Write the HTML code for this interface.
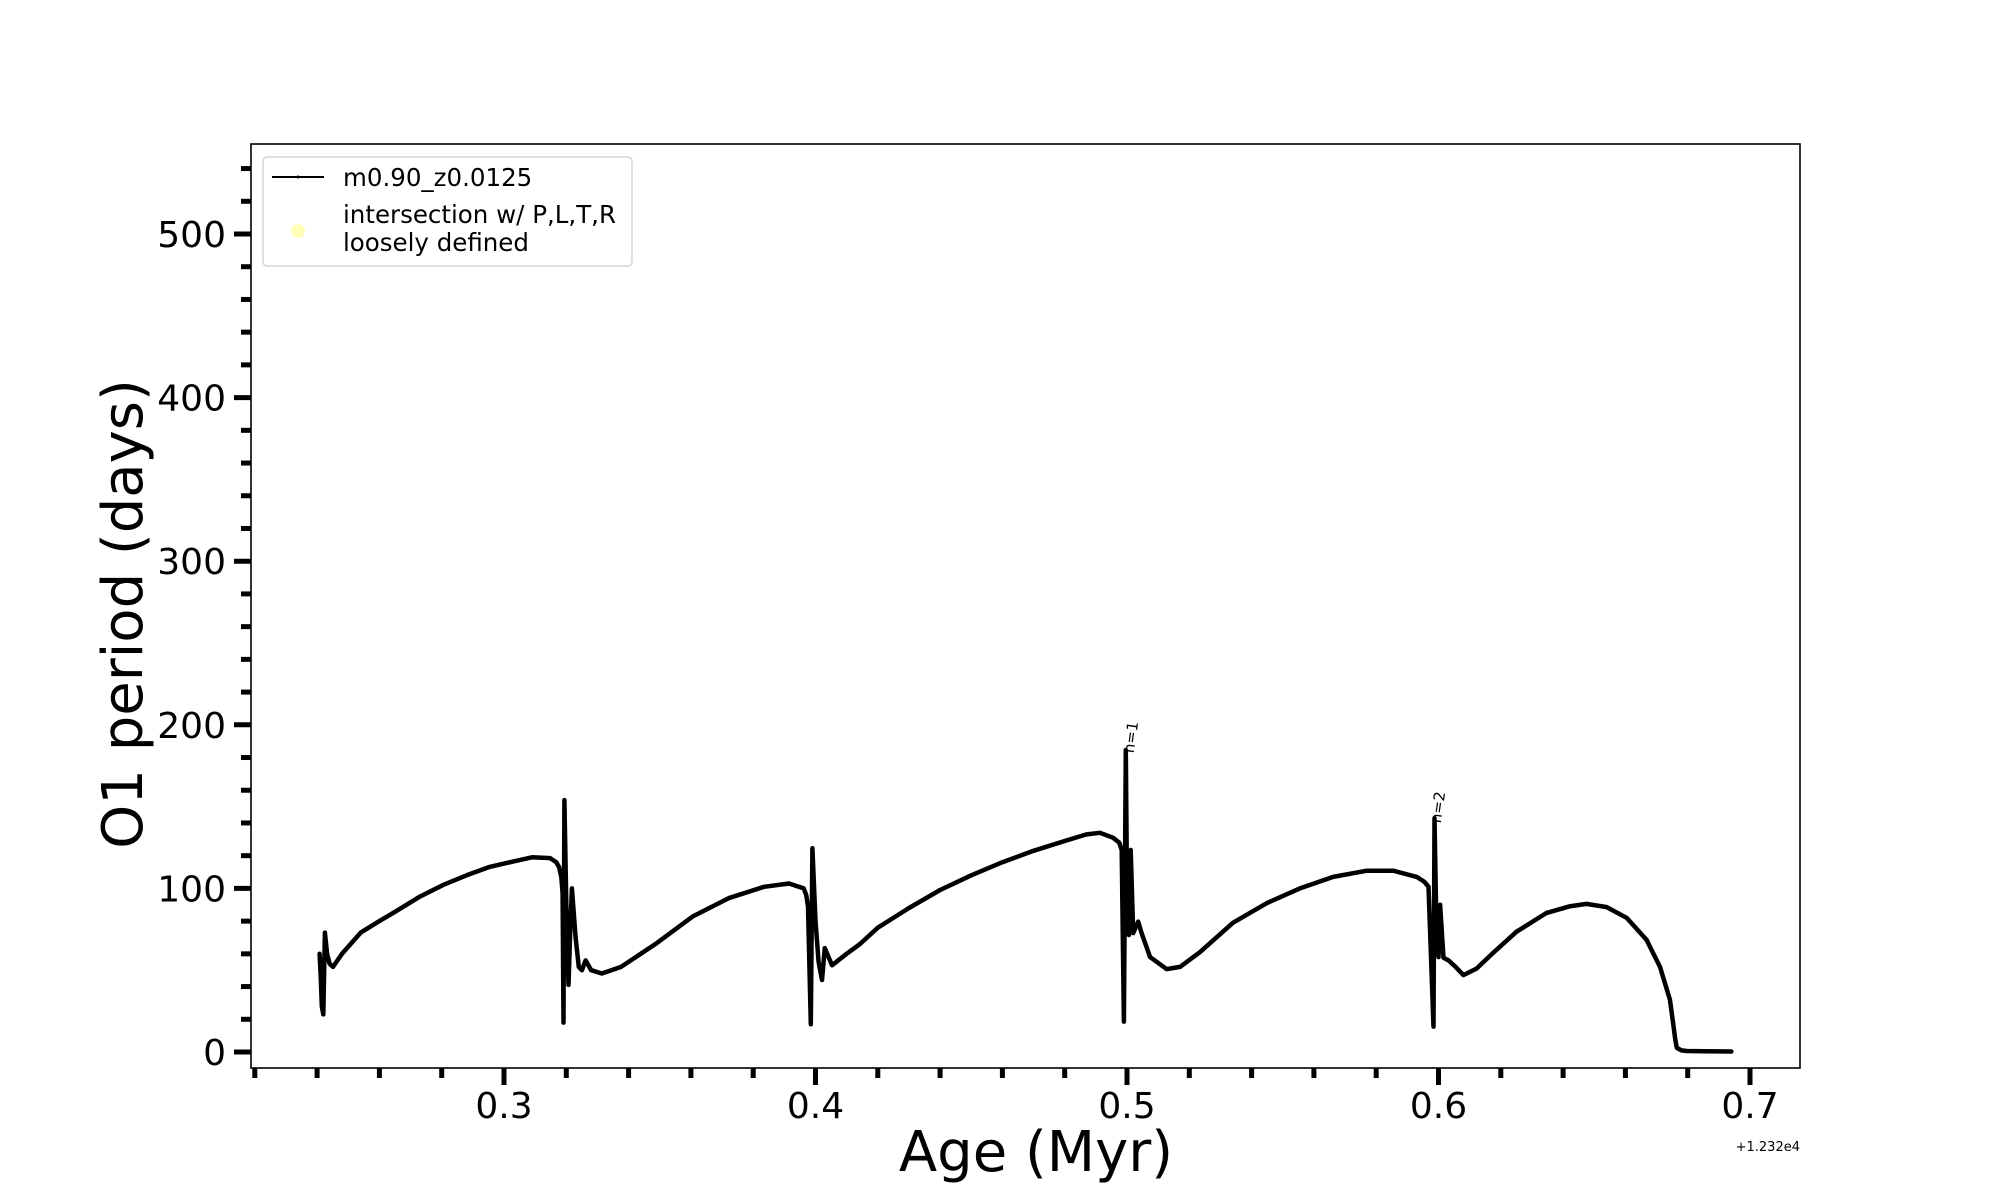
<!DOCTYPE html>
<html><head><meta charset="utf-8"><style>
html,body{margin:0;padding:0;background:#fff;}
svg{display:block;font-family:"DejaVu Sans","Liberation Sans",sans-serif;}
</style></head><body>
<svg id="chart" width="2000" height="1200" viewBox="0 0 2000 1200">
<rect x="0" y="0" width="2000" height="1200" fill="#fff"/>
<g id="marks"></g>
<g id="axes"></g>
<rect x="251" y="144" width="1549" height="924" fill="none" stroke="#000" stroke-width="1.6"/>
<text x="1136" y="738" font-size="15" text-anchor="middle" transform="rotate(-82 1136 738)">n=1</text>
<text x="1443" y="808" font-size="15" text-anchor="middle" transform="rotate(-82 1443 808)">n=2</text>
<text x="1036" y="1171" font-size="56" text-anchor="middle">Age (Myr)</text>
<text x="0" y="0" font-size="56" text-anchor="middle" transform="translate(142 614) rotate(-90)">O1 period (days)</text>
<text x="1800" y="1151" font-size="13" text-anchor="end">+1.232e4</text>
<g>
<rect x="263" y="157" width="369" height="109" rx="4" fill="#fff" stroke="#d6d6d6" stroke-width="1.5"/>
<line x1="272" y1="177" x2="324" y2="177" stroke="#000" stroke-width="2"/>
<circle cx="298" cy="177" r="1.5" fill="#000"/>
<text x="343" y="186" font-size="24.5">m0.90_z0.0125</text>
<circle cx="298" cy="231" r="7" fill="#ffffb8"/>
<text x="343" y="223" font-size="24.5">intersection w/ P,L,T,R</text>
<text x="343" y="251" font-size="24.5">loosely defined</text>
</g>
</svg>
<script>
const ages = [
0.2408,0.2412,0.2415,0.2420,0.2425,0.2432,0.2440,0.2451,0.2480,0.2540,0.2600,0.2653,0.2730,0.2804,0.2880,0.2952,0.3020,0.3090,0.3148,0.3168,0.3177,0.3184,0.3188,
0.3191,0.3194,0.3200,0.3207,0.3212,0.3218,0.3230,0.3240,0.3250,0.3262,0.3280,0.3314,0.3376,0.3490,0.3607,0.3721,0.3835,0.3915,0.3962,0.3970,0.3976,
0.3985,0.3990,0.4000,0.4010,0.4021,0.4030,0.4053,0.4100,0.4143,0.4200,0.4300,0.4400,0.4500,0.4600,0.4700,0.4800,0.4870,0.4913,0.4955,0.4975,0.4983,
0.4990,0.4996,0.5000,0.5006,0.5012,0.5020,0.5036,0.5047,0.5074,0.5127,0.5170,0.5234,0.5340,0.5449,0.5555,0.5662,0.5770,0.5855,0.5930,0.5955,0.5968,
0.5984,0.5987,0.5993,0.6000,0.6005,0.6016,0.6032,0.6055,0.6080,0.6122,0.6175,0.6250,0.6347,0.6420,0.6475,0.6540,0.6604,0.6668,0.6711,0.6743,0.6752,0.6760,0.6765,0.6780,0.6797,0.6850,0.6940];
const periods = [
60,45,28,23,73,60,54,52,60,73,80,86,95,102,108,113,116,119,118.5,116,113,107,97,
18,154,90,41,70,100,70,52,50,56,50,48,52,66.5,83,94,101,103,100,96,89,
17,124.5,80,55,44,63.5,53,60,66,76,88,99,108,116,123,129,133,134,131,128,123.5,
18.5,184.6,100,71.5,123.5,72.7,79.7,72.7,58,50.7,52,61,79,91,100,107,110.8,110.8,107,104,101,
15.5,143,80,58,90,57.6,56,52,47,51,60.5,73.5,85,89,90.5,88.6,82,68.5,52,32,19.5,8,2.5,1,0.6,0.4,0.3];
const xTicksMajor = [0.3,0.4,0.5,0.6,0.7];
const xTickLabels = ["0.3","0.4","0.5","0.6","0.7"];
const yTicksMajor = [0,100,200,300,400,500];
const yTickLabels = ["0","100","200","300","400","500"];
const NS='http://www.w3.org/2000/svg';
function xs(v){return 504+(v-0.3)*3115;}
function ys(v){return 1052-v*1.636;}
const marks=document.getElementById('marks'), axes=document.getElementById('axes');
let d='';
const n=Math.min(ages.length,periods.length);
for(let i=0;i<n;i++){d+=(i?'L':'M')+xs(ages[i]).toFixed(1)+' '+ys(periods[i]).toFixed(1);}
const p=document.createElementNS(NS,'path');
p.setAttribute('d',d);p.setAttribute('fill','none');p.setAttribute('stroke','#000');p.setAttribute('stroke-width','4.5');p.setAttribute('stroke-linejoin','round');p.setAttribute('stroke-linecap','round');


marks.appendChild(p);
function line(x1,y1,x2,y2,w){const l=document.createElementNS(NS,'line');l.setAttribute('x1',x1);l.setAttribute('y1',y1);l.setAttribute('x2',x2);l.setAttribute('y2',y2);l.setAttribute('stroke','#000');l.setAttribute('stroke-width',w);axes.appendChild(l);return l;}
function txt(x,y,s,anchor,size){const t=document.createElementNS(NS,'text');t.setAttribute('x',x);t.setAttribute('y',y);t.setAttribute('text-anchor',anchor);t.setAttribute('font-size',size);t.textContent=s;axes.appendChild(t);return t;}
for(let k=0;k<25;k++){const v=0.22+k*0.02;const x=xs(v);if(x<250||x>1801)continue;
 const major=Math.abs((v*10)-Math.round(v*10))<1e-6;
 const l=line(x,1068,x,1068+(major?17:10),5);
 
 }
xTicksMajor.forEach((v,i)=>{const t=txt(xs(v),1118,xTickLabels[i],'middle',36);
 
 });
for(let k=0;k<=27;k++){const v=k*20;const y=ys(v);if(y<144)continue;
 const major=v%100===0;
 const l=line(251-(major?17:10),y,251,y,5);
 
 }
yTicksMajor.forEach((v,i)=>{const t=txt(226,ys(v)+13,yTickLabels[i],'end',36);
 
 });
</script>
</body></html>
